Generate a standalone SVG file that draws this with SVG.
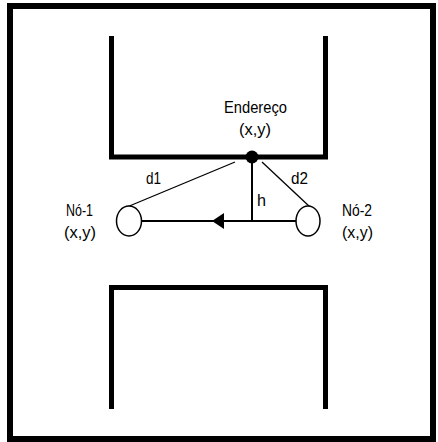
<svg xmlns="http://www.w3.org/2000/svg" width="438" height="442" viewBox="0 0 438 442">
<style>
.frame{fill:none;stroke:#000;stroke-width:6}
.wall{fill:none;stroke:#000;stroke-width:5;stroke-linejoin:miter}
.ln{fill:none;stroke:#000;stroke-width:2}
.thin{fill:none;stroke:#000;stroke-width:1.3}
.node{fill:#fff;stroke:#000;stroke-width:1.5}
text{font-family:"Liberation Sans",Arial,sans-serif;font-size:16px;fill:#000}
</style>
<rect class="frame" x="10" y="6" width="423" height="433"/>
<g id="upper-wall"><polyline class="wall" points="111.5,36 111.5,157 325.5,157 325.5,36"/></g>
<g id="lower-wall"><polyline class="wall" points="111.5,409 111.5,287.5 325.5,287.5 325.5,409"/></g>
<g id="connectors">
<line class="thin" x1="235" y1="162" x2="127" y2="207"/>
<line class="thin" x1="262" y1="162" x2="310" y2="207"/>
<line class="ln" x1="252" y1="157" x2="252" y2="221"/>
<line class="ln" x1="296" y1="221" x2="141" y2="221"/>
<path d="M212,221 L224,213 L224,229 Z" fill="#000"/>
<text x="146" y="184" textLength="15" lengthAdjust="spacingAndGlyphs">d1</text>
<text x="291" y="184" textLength="17" lengthAdjust="spacingAndGlyphs">d2</text>
<text x="257" y="206" textLength="9" lengthAdjust="spacingAndGlyphs">h</text>
</g>
<g id="endereco">
<circle cx="252" cy="157" r="6.5" fill="#000"/>
<text x="224" y="113" textLength="63" lengthAdjust="spacingAndGlyphs">Endereço</text>
<text x="239" y="135" textLength="32" lengthAdjust="spacingAndGlyphs">(x,y)</text>
</g>
<g id="no1">
<ellipse class="node" cx="129" cy="221" rx="12.5" ry="15"/>
<text x="66" y="216" textLength="27" lengthAdjust="spacingAndGlyphs">Nó-1</text>
<text x="64" y="238" textLength="32" lengthAdjust="spacingAndGlyphs">(x,y)</text>
</g>
<g id="no2">
<ellipse class="node" cx="308" cy="221" rx="12" ry="15"/>
<text x="342" y="216" textLength="30" lengthAdjust="spacingAndGlyphs">Nó-2</text>
<text x="342" y="238" textLength="31" lengthAdjust="spacingAndGlyphs">(x,y)</text>
</g>
</svg>
